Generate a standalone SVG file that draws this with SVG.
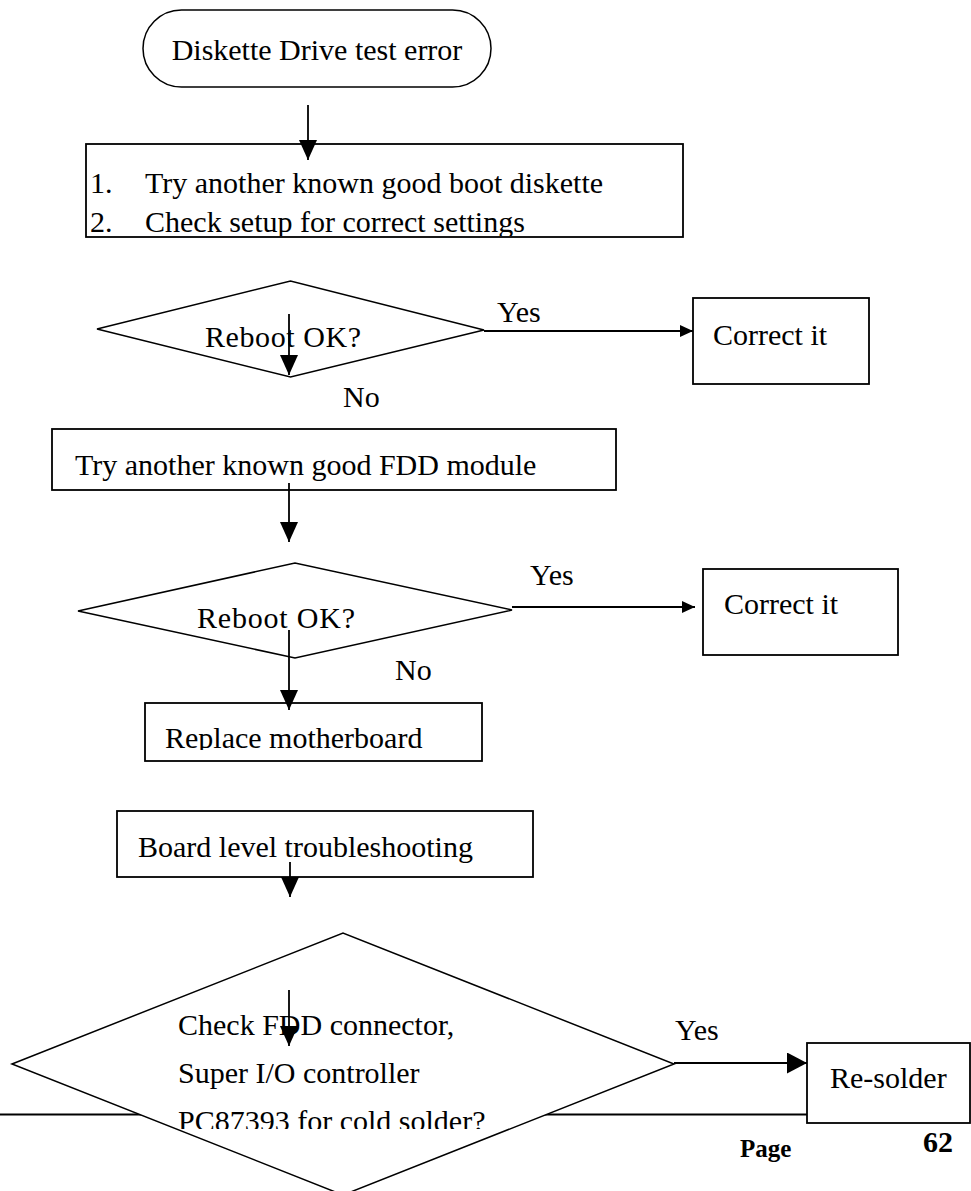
<svg xmlns="http://www.w3.org/2000/svg" width="971" height="1191" viewBox="0 0 971 1191">
<defs>
<style>
.t{font-family:"Liberation Serif","Times New Roman",serif;font-size:30px;fill:#000}
.b{font-family:"Liberation Serif","Times New Roman",serif;font-weight:bold;fill:#000}
.s{fill:#fff;stroke:#000;stroke-width:1.8}
.d{fill:#fff;stroke:#000;stroke-width:1.5}
.c{stroke:#000;stroke-width:1.8;fill:none}
</style>
<marker id="av" markerUnits="userSpaceOnUse" markerWidth="22" markerHeight="20" refX="20" refY="9" orient="auto"><path d="M0,0 L20,9 L0,18 z" fill="#000"/></marker>
<marker id="ah" markerUnits="userSpaceOnUse" markerWidth="14" markerHeight="14" refX="13" refY="6" orient="auto"><path d="M0,0 L13,6 L0,12 z" fill="#000"/></marker>
<marker id="ab" markerUnits="userSpaceOnUse" markerWidth="22" markerHeight="22" refX="20" refY="10.5" orient="auto"><path d="M0,0 L20,10.5 L0,21 z" fill="#000"/></marker>
<clipPath id="clip1"><rect x="0" y="0" width="971" height="236"/></clipPath>
<clipPath id="clip2"><rect x="0" y="0" width="971" height="750"/></clipPath>
<clipPath id="clip3"><rect x="0" y="0" width="971" height="1129"/></clipPath>
</defs>
<rect width="971" height="1191" fill="#fff"/>
<g id="footer">
<line x1="0" y1="1114.5" x2="808" y2="1114.5" stroke="#000" stroke-width="2"/>
<text class="b" x="740" y="1157" font-size="25">Page</text>
<text class="b" x="923" y="1152" font-size="30">62</text>
</g>
<g id="start">
<rect class="d" x="143" y="10" width="348" height="77" rx="38.5" ry="38.5"/>
<text class="t" x="317" y="60" text-anchor="middle">Diskette Drive test error</text>
</g>
<g id="step1">
<rect class="s" x="86" y="144" width="597" height="93"/>
<g clip-path="url(#clip1)">
<text class="t" x="90" y="193">1.</text>
<text class="t" x="145" y="193">Try another known good boot diskette</text>
<text class="t" x="90" y="232">2.</text>
<text class="t" x="145" y="232">Check setup for correct settings</text>
</g>
</g>
<g id="decision1">
<polygon class="d" points="97,329 290.5,281 484,330 290.5,377"/>
<text class="t" x="205" y="347" textLength="156">Reboot OK?</text>
</g>
<g id="correct1">
<rect class="s" x="693" y="298" width="176" height="86"/>
<text class="t" x="713" y="345">Correct it</text>
</g>
<g id="step2">
<rect class="s" x="52" y="429" width="564" height="61"/>
<text class="t" x="75" y="475">Try another known good FDD module</text>
</g>
<g id="decision2">
<polygon class="d" points="78,611 295,563 512,610 295,658"/>
<text class="t" x="197" y="628" textLength="158">Reboot OK?</text>
</g>
<g id="correct2">
<rect class="s" x="703" y="569" width="195" height="86"/>
<text class="t" x="724" y="614">Correct it</text>
</g>
<g id="replace">
<rect class="s" x="145" y="703" width="337" height="58"/>
<text class="t" x="165" y="748" clip-path="url(#clip2)">Replace motherboard</text>
</g>
<g id="board">
<rect class="s" x="117" y="811" width="416" height="66"/>
<text class="t" x="138" y="857">Board level troubleshooting</text>
</g>
<g id="decision3">
<polygon class="d" points="12,1064 343,933 674,1064 343,1195"/>
<text class="t" x="178" y="1035">Check FDD connector,</text>
<text class="t" x="178" y="1083">Super I/O controller</text>
<text class="t" x="178" y="1131" clip-path="url(#clip3)">PC87393 for cold solder?</text>
</g>
<g id="resolder">
<rect class="s" x="807" y="1043" width="163" height="80"/>
<text class="t" x="830" y="1088">Re-solder</text>
</g>
<g id="connectors">
<line class="c" x1="308" y1="105" x2="308" y2="160" marker-end="url(#av)"/>
<line class="c" x1="289" y1="314" x2="289" y2="375" marker-end="url(#av)"/>
<line class="c" x1="484" y1="331" x2="693" y2="331" marker-end="url(#ah)"/>
<line class="c" x1="289" y1="483" x2="289" y2="542" marker-end="url(#av)"/>
<line class="c" x1="512" y1="607" x2="695" y2="607" marker-end="url(#ah)"/>
<line class="c" x1="289" y1="630" x2="289" y2="710" marker-end="url(#av)"/>
<line class="c" x1="290" y1="862" x2="290" y2="897" marker-end="url(#av)"/>
<line class="c" x1="289" y1="990" x2="289" y2="1046" marker-end="url(#av)"/>
<line class="c" x1="674" y1="1063" x2="807" y2="1063" marker-end="url(#ab)"/>
</g>
<g id="labels">
<text class="t" x="497" y="322">Yes</text>
<text class="t" x="343" y="407">No</text>
<text class="t" x="530" y="585">Yes</text>
<text class="t" x="395" y="680">No</text>
<text class="t" x="675" y="1040">Yes</text>
</g>
</svg>
